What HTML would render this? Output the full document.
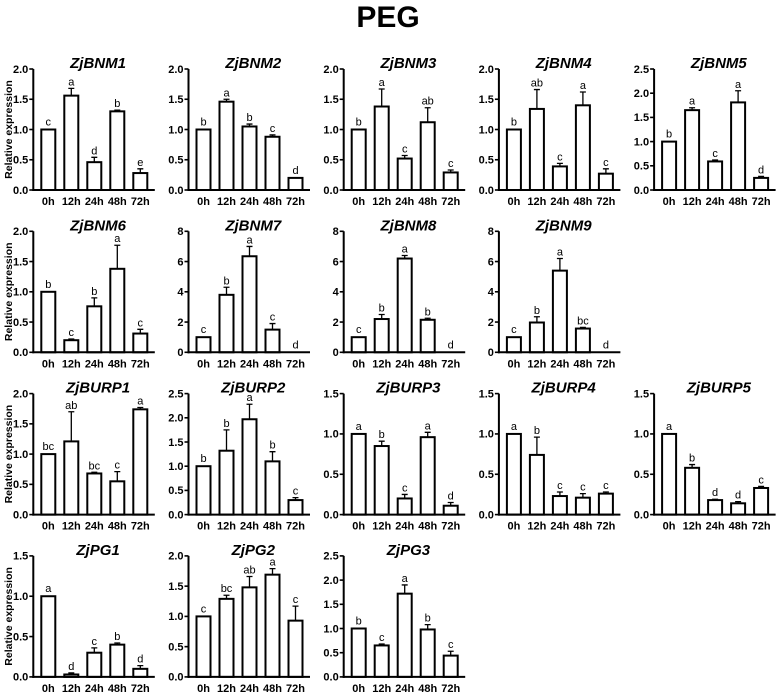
<!DOCTYPE html>
<html><head><meta charset="utf-8"><style>
html,body{margin:0;padding:0;background:#fff;}
svg{display:block;font-family:"Liberation Sans",Arial,sans-serif;}
</style></head><body>
<svg id="fig" width="777" height="693" viewBox="0 0 777 693">
<text x="388" y="27" text-anchor="middle" font-size="30" font-weight="bold">PEG</text>
</svg>
<script>
const categories = ["0h","12h","24h","48h","72h"];
const geneNames = ["ZjBNM1","ZjBNM2","ZjBNM3","ZjBNM4","ZjBNM5","ZjBNM6","ZjBNM7","ZjBNM8","ZjBNM9","ZjBURP1","ZjBURP2","ZjBURP3","ZjBURP4","ZjBURP5","ZjPG1","ZjPG2","ZjPG3"];
const meanValues = [
 [1.0,1.56,0.46,1.30,0.28],[1.0,1.46,1.05,0.88,0.20],[1.0,1.38,0.52,1.12,0.29],[1.0,1.34,0.39,1.40,0.27],[1.0,1.65,0.59,1.81,0.25],
 [1.0,0.20,0.76,1.38,0.31],[1.0,3.8,6.35,1.5,0],[1.0,2.2,6.2,2.15,0],[1.0,1.97,5.4,1.57,0],
 [1.0,1.21,0.68,0.55,1.74],[1.0,1.32,1.97,1.10,0.30],[1.0,0.85,0.20,0.96,0.11],[1.0,0.74,0.23,0.21,0.26],[1.0,0.58,0.18,0.14,0.33],
 [1.0,0.03,0.30,0.40,0.10],[1.0,1.29,1.48,1.69,0.93],[1.0,0.65,1.72,0.98,0.44]];
const errorValues = [
 [0,0.12,0.08,0.02,0.07],[0,0.04,0.04,0.03,0],[0,0.29,0.05,0.24,0.04],[0,0.32,0.05,0.22,0.08],[0,0.05,0.03,0.24,0.03],
 [0,0.02,0.14,0.39,0.07],[0,0.5,0.65,0.4,0],[0,0.3,0.2,0.1,0],[0,0.38,0.8,0.08,0],
 [0,0.49,0.02,0.16,0.03],[0,0.43,0.31,0.2,0.05],[0,0.06,0.05,0.06,0.04],[0,0.22,0.05,0.05,0.02],[0,0.04,0.01,0.02,0.02],
 [0,0.02,0.06,0.02,0.04],[0,0.06,0.18,0.1,0.24],[0,0.03,0.18,0.1,0.09]];
const sigLetters = [
 ["c","a","d","b","e"],["b","a","b","c","d"],["b","a","c","ab","c"],["b","ab","c","a","c"],["b","a","c","a","d"],
 ["b","c","b","a","c"],["c","b","a","c","d"],["c","b","a","b","d"],["c","b","a","bc","d"],
 ["bc","ab","bc","c","a"],["b","b","a","b","c"],["a","b","c","a","d"],["a","b","c","c","c"],["a","b","d","d","c"],
 ["a","d","c","b","d"],["c","bc","ab","a","c"],["b","c","a","b","c"]];
const axisMax = [2,2,2,2,2.5, 2,8,8,8, 2,2.5,1.5,1.5,1.5, 1.5,2,2.5];
const axisStep = [0.5,0.5,0.5,0.5,0.5, 0.5,2,2,2, 0.5,0.5,0.5,0.5,0.5, 0.5,0.5,0.5];
const panelRow = [0,0,0,0,0, 1,1,1,1, 2,2,2,2,2, 3,3,3];
const panelCol = [0,1,2,3,4, 0,1,2,3, 0,1,2,3,4, 0,1,2];

const svg = document.getElementById('fig');
const NS = 'http://www.w3.org/2000/svg';
function mk(tag, attrs, txt){const e=document.createElementNS(NS,tag);for(const k in attrs)e.setAttribute(k,attrs[k]);if(txt!==undefined)e.textContent=txt;return e;}

geneNames.forEach((name,p)=>{
  const x0 = 33.3 + 155.2*panelCol[p];
  const top = 69 + 162.3*panelRow[p];
  const bottom = top + 121;
  const xEnd = x0 + 121.5;
  const max = axisMax[p];
  const yS = v => bottom - v/max*(bottom-top);
  const xS = i => x0 + 15 + 23*i;
  const g = mk('g',{});
  
  
  svg.appendChild(g);
  const t = mk('text',{x:(x0+xEnd)/2+4,y:top-1,'text-anchor':'middle','font-size':15,'font-weight':'bold','font-style':'italic'},name);
  
  
  g.appendChild(t);
  if(panelCol[p]===0){
    const yl = mk('text',{transform:`translate(12,${(top+bottom)/2}) rotate(-90)`,'text-anchor':'middle','font-size':10.5,'font-weight':'bold'},'Relative expression');
    
    
    g.appendChild(yl);
  }
  const nT = Math.round(max/axisStep[p]);
  for(let k=0;k<=nT;k++){
    const v = k*axisStep[p];
    const y = yS(v);
    const tk = mk('line',{x1:x0-4,x2:x0,y1:y,y2:y,stroke:'#000','stroke-width':1.6});
    
    
    g.appendChild(tk);
    const tl = mk('text',{x:x0-5,y:y+3.8,'text-anchor':'end','font-size':11,'font-weight':'bold'}, axisStep[p]<1? v.toFixed(1): String(v));
    
    
    g.appendChild(tl);
  }
  const ya = mk('line',{x1:x0,x2:x0,y1:top,y2:bottom+1,stroke:'#000','stroke-width':2});
  
  
  g.appendChild(ya);
  meanValues[p].forEach((v,i)=>{
    const cx = xS(i), w = 14;
    const yT = yS(v);
    const b = mk('rect',{x:cx-w/2,y:yT,width:w,height:Math.max(0,bottom-yT),fill:'#fff',stroke:'#000','stroke-width':2});
    
    
    g.appendChild(b);
    const e = errorValues[p][i];
    const yE = yS(v+e);
    if(e>0){
      const el = mk('path',{d:`M${cx},${yT} V${yE} M${cx-3},${yE} H${cx+3}`,stroke:'#000','stroke-width':1.3,fill:'none'});
      
      
      g.appendChild(el);
    }
    const lt = mk('text',{x:cx,y:Math.min(yE,yT-1)-3,'text-anchor':'middle','font-size':11},sigLetters[p][i]);
    
    
    g.appendChild(lt);
    const xl = mk('text',{x:cx,y:bottom+15,'text-anchor':'middle','font-size':11,'font-weight':'bold'},categories[i]);
    
    
    g.appendChild(xl);
  });
  const xa = mk('line',{x1:x0-1,x2:xEnd,y1:bottom,y2:bottom,stroke:'#000','stroke-width':2});
  
  
  g.appendChild(xa);
});
</script>
</body></html>
